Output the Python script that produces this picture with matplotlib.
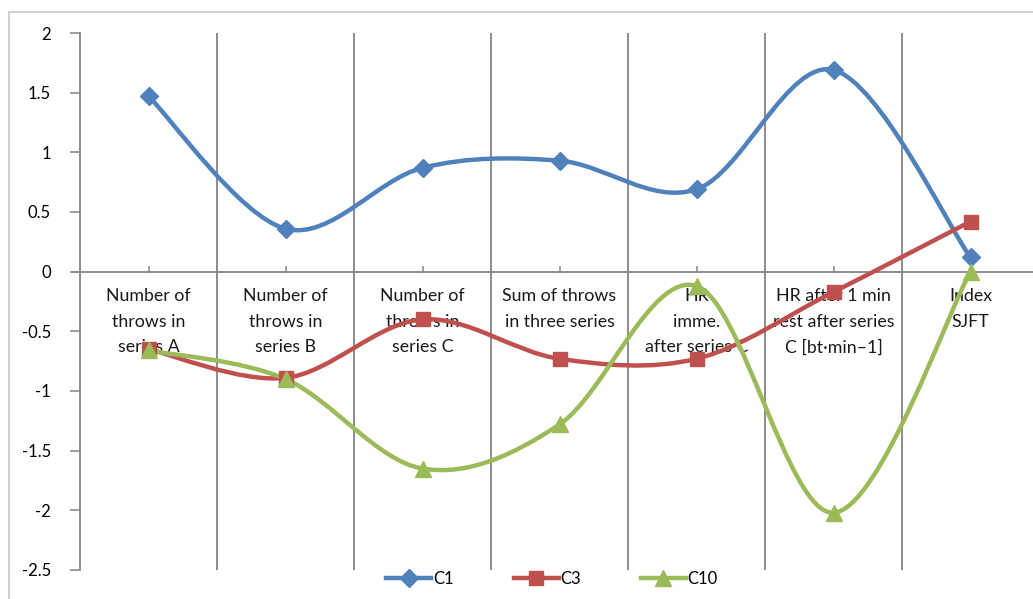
import numpy as np
import matplotlib.pyplot as plt
from matplotlib.path import Path
from matplotlib.patches import PathPatch, Rectangle
from matplotlib.lines import Line2D

plt.rcParams['font.family'] = ['Lato', 'DejaVu Sans']

categories = [
    'Number of\nthrows in\nseries A',
    'Number of\nthrows in\nseries B',
    'Number of\nthrows in\nseries C',
    'Sum of throws\nin three series',
    'HR\nimme.\nafter series C',
    'HR after 1 min\nrest after series\nC [bt\u00b7min\u20131]',
    'Index\nSJFT',
]
c1 = [1.47, 0.36, 0.87, 0.93, 0.69, 1.69, 0.12]
c3 = [-0.65, -0.89, -0.40, -0.73, -0.73, -0.17, 0.42]
c10 = [-0.66, -0.90, -1.65, -1.28, -0.12, -2.02, 0.00]

y_ticks = [2, 1.5, 1, 0.5, 0, -0.5, -1, -1.5, -2, -2.5]
y_labels = ['2', '1.5', '1', '0.5', '0', '-0.5', '-1', '-1.5', '-2', '-2.5']

series = [
    ('C1', c1, '#4f81bd', 'D', 9),
    ('C3', c3, '#c0504d', 's', 10),
    ('C10', c10, '#9bbb59', '^', 11),
]


def smooth_path(xs, ys):
    # Bezier smoothing through the points (Catmull-Rom style control points)
    pts = np.column_stack([xs, ys]).astype(float)
    n = len(pts)
    verts = [pts[0]]
    codes = [Path.MOVETO]
    for i in range(n - 1):
        p0 = pts[max(i - 1, 0)]
        p1 = pts[i]
        p2 = pts[i + 1]
        p3 = pts[min(i + 2, n - 1)]
        verts += [p1 + (p2 - p0) / 6, p2 - (p3 - p1) / 6, p2]
        codes += [Path.CURVE4] * 3
    return Path(verts, codes)


W, H = 1033, 599
fig = plt.figure(figsize=(W / 100, H / 100), dpi=100)
left, right, top, bottom = 80, 1039, 33, 570
ax = fig.add_axes([left / W, 1 - bottom / H, (right - left) / W, (bottom - top) / H])

# outer chart frame
fig.patches.append(Rectangle((9 / W, -0.05), 1.1, 1 - 12 / H + 0.05,
                             transform=fig.transFigure, fill=False,
                             edgecolor='#c8c8c8', linewidth=1.2))

x = np.arange(len(categories))
ax.set_xlim(-0.5, len(categories) - 0.5)
ax.set_ylim(-2.5, 2)

for b in np.arange(0.5, len(categories) - 0.5):
    ax.axvline(b, color='#8c8c8c', linewidth=1.4, zorder=1)

for sp in ['top', 'right', 'bottom']:
    ax.spines[sp].set_visible(False)
ax.spines['left'].set_color('#8c8c8c')
ax.spines['left'].set_linewidth(1.4)

ax.plot([-0.55, len(categories) - 0.5], [0, 0], color='#8c8c8c',
        linewidth=1.4, clip_on=False, zorder=1)

ax.set_yticks(y_ticks)
ax.set_yticklabels(y_labels)
ax.tick_params(axis='y', direction='out', length=7, width=1.2, color='#8c8c8c',
               labelsize=12, pad=14)
ax.set_xticks([])

# small ticks at category centres pointing up from the zero line
for xi in x:
    ax.plot([xi, xi], [0, 0.04], color='#8c8c8c', linewidth=1.2, zorder=1)

for xi, lab in zip(x, categories):
    ax.text(xi, -0.14, lab, ha='center', va='top', fontsize=12.8,
            linespacing=1.72, color='#1a1a1a', zorder=2)

handles = []
for name, vals, color, mk, ms in series:
    ax.add_patch(PathPatch(smooth_path(x, vals), fill=False, edgecolor=color,
                           linewidth=3.2, zorder=3, capstyle='round'))
    ax.plot(x, vals, linestyle='none', marker=mk, markersize=ms,
            color=color, zorder=4)
    handles.append(Line2D([], [], color=color, linewidth=3.2, marker=mk,
                          markersize=ms, label=name))

fig.legend(handles=handles, loc='center', bbox_to_anchor=(552 / W, 1 - 579 / H),
           ncol=3, frameon=False, fontsize=12, handlelength=2.7,
           columnspacing=3.6, handletextpad=0.1)

fig.savefig('out.png', dpi=100)
